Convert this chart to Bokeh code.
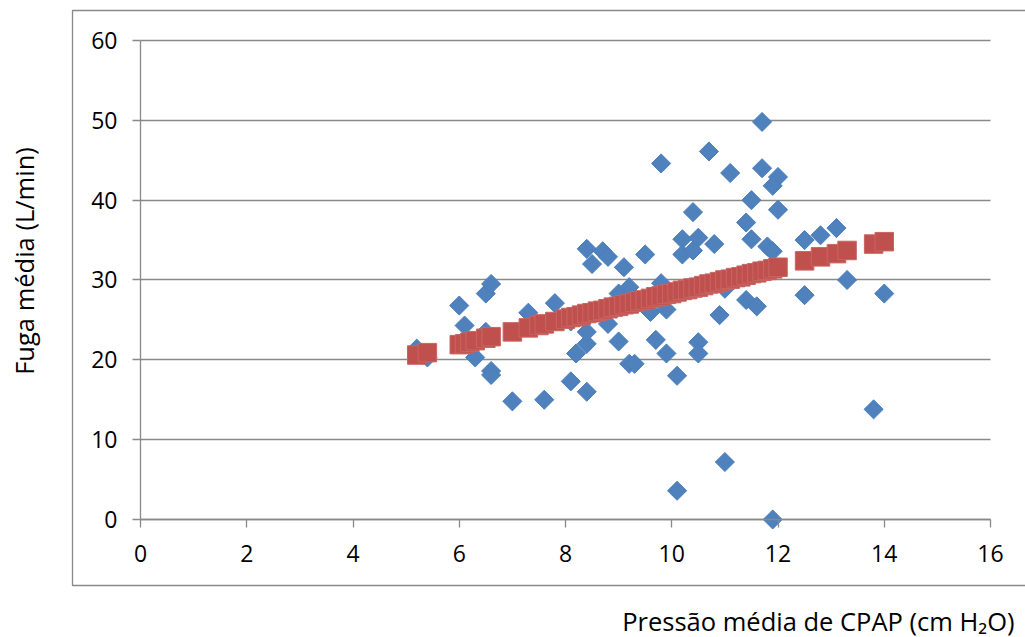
import math
from bokeh.plotting import figure
from bokeh.models import Range1d, FixedTicker, BoxAnnotation, Label, ColumnDataSource
from bokeh.embed import file_html
from bokeh.resources import INLINE

# Observed data: mean CPAP pressure (cm H2O) vs mean leak (L/min)
x_obs = [5.2, 5.4, 6.0, 6.1, 6.3, 6.5, 6.6, 6.5, 6.6, 6.6,
         7.0, 7.3, 7.6, 7.8, 8.1, 8.2, 8.4, 8.4, 8.4, 8.4,
         8.5, 8.7, 8.8, 9.0, 8.8, 9.0, 9.1, 9.2, 9.3, 9.5,
         9.7, 9.9, 10.1, 10.2, 10.2, 10.4, 10.5, 10.8, 11.5, 11.8,
         11.9, 9.8, 9.2, 9.6, 9.9, 10.9, 11.0, 11.4, 11.6, 12.5,
         10.5, 10.5, 11.7, 9.8, 10.7, 11.1, 11.7, 12.0, 11.9, 11.5,
         12.0, 10.4, 11.4, 12.5, 12.8, 13.1, 13.3, 14.0, 13.8, 11.0,
         10.1, 11.9, 8.1]
y_obs = [21.4, 20.3, 26.8, 24.3, 20.3, 28.3, 29.5, 23.5, 18.6, 18.1,
         14.8, 25.9, 15.0, 27.1, 17.3, 20.8, 16.0, 22.0, 23.5, 33.9,
         32.0, 33.6, 32.9, 28.3, 24.5, 22.3, 31.6, 19.5, 19.5, 33.2,
         22.5, 20.8, 18.0, 35.1, 33.2, 33.7, 35.3, 34.5, 35.1, 34.2,
         33.6, 29.6, 29.1, 26.0, 26.3, 25.6, 28.9, 27.5, 26.7, 28.1,
         22.2, 20.8, 49.8, 44.6, 46.1, 43.4, 44.0, 42.9, 41.8, 40.0,
         38.8, 38.5, 37.2, 35.0, 35.6, 36.5, 30.0, 28.3, 13.8, 7.2,
         3.6, 0.0, 24.8]

# Predicted (trend) series
x_fit = [5.2, 5.4, 6.0, 6.1, 6.2, 6.3, 6.5, 6.6, 7.0, 7.3,
         7.5, 7.6, 7.8, 8.0, 8.1, 8.2, 8.3, 8.4, 8.5, 8.6,
         8.7, 8.8, 8.9, 9.0, 9.1, 9.2, 9.3, 9.4, 9.5, 9.6,
         9.7, 9.8, 9.9, 10.0, 10.1, 10.2, 10.3, 10.4, 10.5, 10.6,
         10.7, 10.8, 10.9, 11.0, 11.1, 11.2, 11.3, 11.4, 11.5, 11.6,
         11.7, 11.8, 11.9, 12.0, 12.5, 12.8, 13.1, 13.3, 13.8, 14.0]
y_fit = [20.6, 20.9, 21.9, 22.0, 22.2, 22.4, 22.7, 22.9, 23.5, 24.0,
         24.3, 24.5, 24.8, 25.1, 25.3, 25.4, 25.6, 25.8, 25.9, 26.1,
         26.2, 26.4, 26.6, 26.7, 26.9, 27.0, 27.2, 27.4, 27.5, 27.7,
         27.9, 28.0, 28.2, 28.3, 28.5, 28.7, 28.8, 29.0, 29.1, 29.3,
         29.5, 29.6, 29.8, 30.0, 30.1, 30.3, 30.4, 30.6, 30.8, 30.9,
         31.1, 31.2, 31.4, 31.6, 32.4, 32.9, 33.3, 33.7, 34.5, 34.8]

x_ticks = [0, 2, 4, 6, 8, 10, 12, 14, 16]
y_ticks = [0, 10, 20, 30, 40, 50, 60]
x_title = "Pressão média de CPAP (cm H\u2082O)"
y_title = "Fuga média (L/min)"

FONT = "Open Sans"
GRID = "#898989"
TICK_SIZE = "23px"
TITLE_SIZE = "25.5px"

# Canvas covers the whole window; data 0..16 -> px 140..990, 0..60 -> px 519..40
p = figure(width=1025, height=637, output_backend="svg", toolbar_location=None,
           x_range=Range1d(-2.6353, 16.6588), y_range=Range1d(-14.781, 65.0104),
           min_border_left=0, min_border_right=0, min_border_top=0, min_border_bottom=0)
p.title.visible = False
p.outline_line_color = None
p.background_fill_color = "white"
p.border_fill_color = "white"

p.xgrid.visible = False
p.ygrid.ticker = FixedTicker(ticks=y_ticks)
p.ygrid.bounds = (0, 60)
p.ygrid.cross_bounds = (0, 16)
p.ygrid.grid_line_color = GRID
p.ygrid.grid_line_width = 1.3

for ax in (p.xaxis, p.yaxis):
    ax.fixed_location = 0
    ax.axis_line_color = GRID
    ax.axis_line_width = 1.3
    ax.major_tick_line_color = GRID
    ax.major_tick_line_width = 1.3
    ax.major_tick_out = 8
    ax.major_tick_in = 0
    ax.minor_tick_line_color = None
    ax.major_label_text_font = FONT
    ax.major_label_text_font_size = TICK_SIZE
    ax.major_label_text_color = "#000000"

p.xaxis.ticker = FixedTicker(ticks=x_ticks)
p.xaxis.bounds = (0, 16)
p.xaxis.major_label_standoff = 18
p.yaxis.ticker = FixedTicker(ticks=y_ticks)
p.yaxis.bounds = (0, 60)
p.yaxis.major_label_standoff = 15

# outer chart frame
p.add_layout(BoxAnnotation(left=-1.28, right=17.5, top=63.76, bottom=-8.27,
                           fill_alpha=0, line_color=GRID, line_alpha=1.0, line_width=1.3))

obs = ColumnDataSource(dict(x=x_obs, y=y_obs))
fit = ColumnDataSource(dict(x=x_fit, y=y_fit))
p.scatter("x", "y", source=obs, marker="square", angle=math.pi / 4, size=13.5,
          fill_color="#4F81BD", line_color="#4A7EBB", line_width=1)
p.scatter("x", "y", source=fit, marker="square", size=18.5,
          fill_color="#C0504D", line_color="#C86562", line_width=1)

p.add_layout(Label(x=-2.202, y=32.38, text=y_title, angle=math.pi / 2,
                   text_align="center", text_baseline="middle",
                   text_font=FONT, text_font_size=TITLE_SIZE, text_color="#000000"))
p.add_layout(Label(x=16.452, y=-12.77, text=x_title,
                   text_align="right", text_baseline="middle",
                   text_font=FONT, text_font_size=TITLE_SIZE, text_color="#000000"))

open("out.html", "w").write(file_html(p, INLINE))
